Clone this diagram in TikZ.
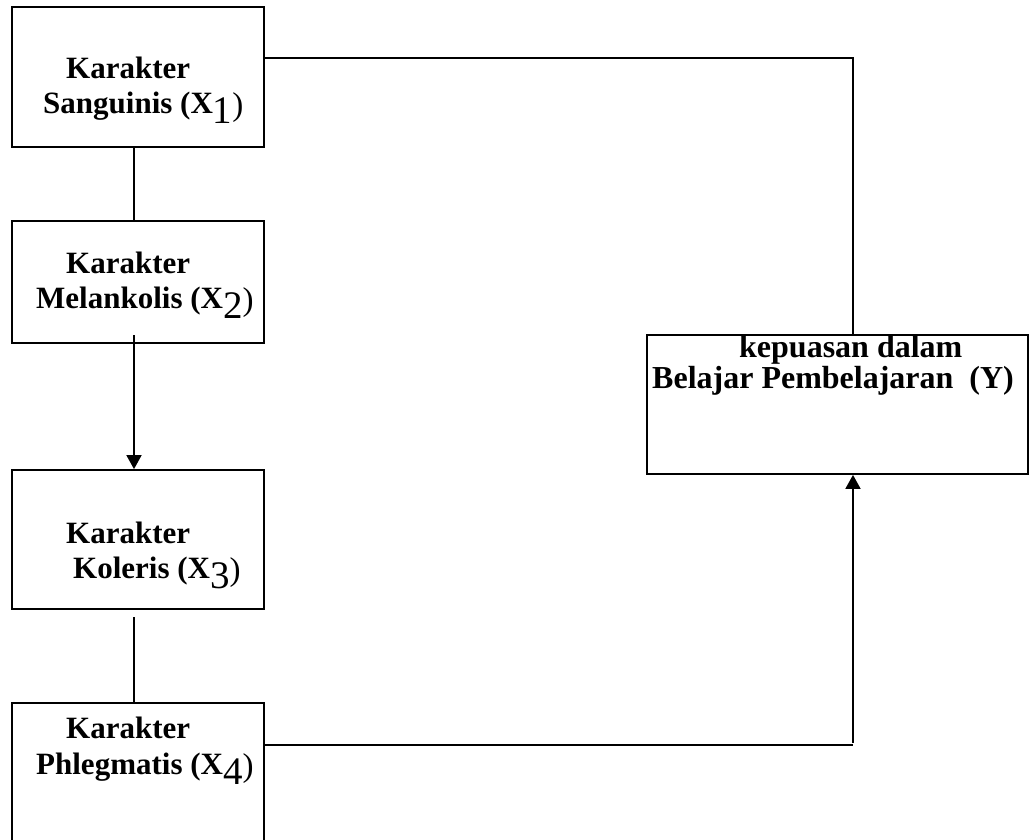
\documentclass[tikz,border=0pt]{standalone}
\usepackage{fontspec}
\setmainfont{Liberation Serif}
\usetikzlibrary{arrows.meta}
\newcommand\subx[1]{\raisebox{-10pt}{\fontsize{39}{39}\selectfont\mdseries #1}{\fontsize{33}{33}\selectfont\mdseries\raisebox{-2pt}{)}}}
\begin{document}
\begin{tikzpicture}[x=1pt,y=-1pt,
  box/.style={draw,line width=1.8pt,rectangle,inner sep=0pt},
  lbl/.style={anchor=base west,inner sep=0pt,font=\fontsize{31}{31}\selectfont\bfseries},
  ylbl/.style={anchor=base west,inner sep=0pt,font=\fontsize{32}{32}\selectfont\bfseries},
  conn/.style={line width=1.8pt},
  arr/.style={line width=1.8pt,-{Triangle[width=15pt,length=14pt]}}]
\useasboundingbox (0,0) rectangle (1029,839);
% boxes
\node[box,minimum width=252pt,minimum height=140pt] (x1) at (138,77) {};
\node[box,minimum width=252pt,minimum height=122pt] (x2) at (138,282) {};
\node[box,minimum width=252pt,minimum height=139pt] (x3) at (138,539.5) {};
\node[box,minimum width=252pt,minimum height=150pt] (x4) at (138,778) {};
\node[box,minimum width=381pt,minimum height=139pt] (y) at (837.5,404.5) {};
% labels
\node[lbl] (t1a) at (66,78) {Karakter};
\node[lbl] (t1b) at (43,113) {Sanguinis (X\subx{1}};
\node[lbl] (t2a) at (66,273) {Karakter};
\node[lbl] (t2b) at (36,308) {Melankolis (X\subx{2}};
\node[lbl] (t3a) at (66,543) {Karakter};
\node[lbl] (t3b) at (73,578) {Koleris (X\subx{3}};
\node[lbl] (t4a) at (66,738) {Karakter};
\node[lbl] (t4b) at (36,774) {Phlegmatis (X\subx{4}};
\node[ylbl] (tya) at (739,357) {kepuasan dalam};
\node[ylbl] (tyb) at (652,388) {Belajar Pembelajaran~~(Y)};
% connectors
\coordinate (c1) at (853,58);
\coordinate (c4) at (853,745);
\coordinate (x2s) at (134,335);
\coordinate (x3s) at (134,617);
\draw[conn] (x1.east |- c1) -- (c1) -- (y.north -| c1);
\draw[conn] (x1.south -| x2s) -- (x2.north -| x2s);
\draw[arr] (x2s) -- (x3.north -| x2s);
\draw[conn] (x3s) -- (x4.north -| x3s);
\draw[conn] (x4.east |- c4) -- (c4);
\draw[arr] ([yshift=2pt]c4) -- (y.south -| c4);
\end{tikzpicture}
\end{document}
